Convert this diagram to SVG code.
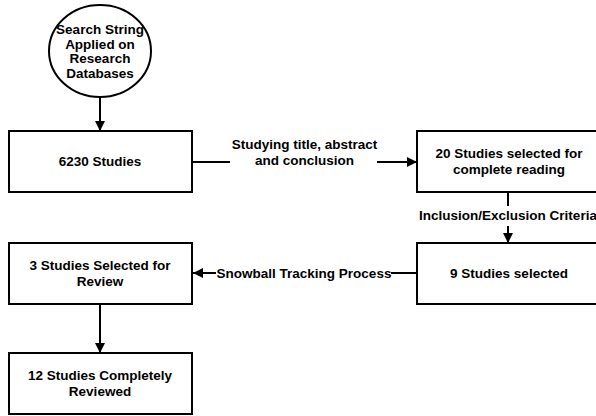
<svg xmlns="http://www.w3.org/2000/svg" width="596" height="416" viewBox="0 0 596 416">
<defs>
<marker id="ah" viewBox="0 0 10 10" refX="10" refY="5" markerWidth="10" markerHeight="10" markerUnits="userSpaceOnUse" orient="auto">
<path d="M0,0 L10,5 L0,10 Z" fill="#000"/>
</marker>
<style>
.box{fill:#fff;stroke:#000;stroke-width:2}
.t{font-family:"Liberation Sans",Arial,sans-serif;font-weight:bold;font-size:13.5px;fill:#000;text-anchor:middle}
.c{fill:none;stroke:#000;stroke-width:2}
</style>
</defs>
<rect width="596" height="416" fill="#fff"/>
<g id="connectors">
<line class="c" x1="100" y1="97" x2="100" y2="131" marker-end="url(#ah)"/>
<line class="c" x1="192" y1="162" x2="230" y2="162"/>
<line class="c" x1="377" y1="162" x2="417" y2="162" marker-end="url(#ah)"/>
<line class="c" x1="508" y1="192" x2="508" y2="206"/>
<line class="c" x1="508" y1="226" x2="508" y2="243" marker-end="url(#ah)"/>
<line class="c" x1="417" y1="273" x2="391" y2="273"/>
<line class="c" x1="216" y1="273" x2="193" y2="273" marker-end="url(#ah)"/>
<line class="c" x1="100" y1="304" x2="100" y2="353" marker-end="url(#ah)"/>
<text class="t" x="304.5" y="149">Studying title, abstract</text>
<text class="t" x="304.5" y="165">and conclusion</text>
<text class="t" x="508" y="220">Inclusion/Exclusion Criteria</text>
<text class="t" x="304" y="277.5">Snowball Tracking Process</text>
</g>
<g id="start">
<ellipse cx="100" cy="51" rx="51" ry="46" fill="#fff" stroke="#000" stroke-width="2"/>
<text class="t" x="100" y="34">Search String</text>
<text class="t" x="100" y="48.5">Applied on</text>
<text class="t" x="100" y="63">Research</text>
<text class="t" x="100" y="77.5">Databases</text>
</g>
<g id="n6230">
<rect class="box" x="9" y="131" width="183" height="61"/>
<text class="t" x="100" y="166">6230 Studies</text>
</g>
<g id="n20">
<rect class="box" x="417" y="131" width="183" height="61"/>
<text class="t" x="509" y="158">20 Studies selected for</text>
<text class="t" x="509" y="174">complete reading</text>
</g>
<g id="n9">
<rect class="box" x="417" y="243" width="183" height="61"/>
<text class="t" x="509" y="278">9 Studies selected</text>
</g>
<g id="n3">
<rect class="box" x="9" y="243" width="183" height="61"/>
<text class="t" x="100" y="270">3 Studies Selected for</text>
<text class="t" x="100" y="286">Review</text>
</g>
<g id="n12">
<rect class="box" x="9" y="353" width="183" height="61"/>
<text class="t" x="100" y="380">12 Studies Completely</text>
<text class="t" x="100" y="396">Reviewed</text>
</g>
</svg>
